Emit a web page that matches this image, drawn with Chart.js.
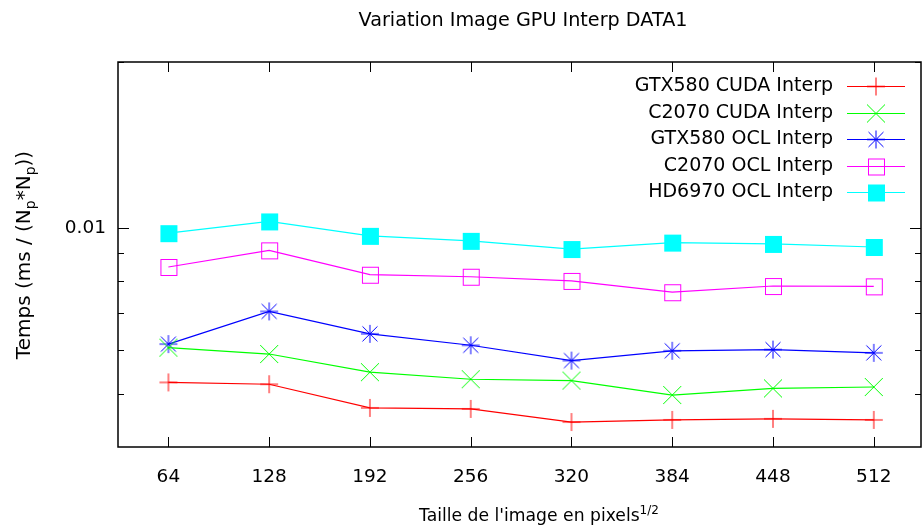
<!DOCTYPE html>
<html>
<head>
<meta charset="utf-8">
<title>Variation Image GPU Interp DATA1</title>
<script src="https://cdn.jsdelivr.net/npm/chart.js@4.4.0/dist/chart.umd.min.js"></script>
<style>
  html, body { margin: 0; padding: 0; background: #fff; overflow: hidden; }
  #wrap { width: 922px; height: 529px; }
</style>
</head>
<body>
<div id="wrap"><canvas id="chart"></canvas></div>
<script>
// image side (sqrt of the pixel count)
const sizes = [64, 128, 192, 256, 320, 384, 448, 512];

// time per pixel, ms / (Np*Np)
const gtx580Cuda = [0.00524, 0.00520, 0.00471, 0.00469, 0.00444, 0.00448, 0.00450, 0.00448];
const c2070Cuda  = [0.00606, 0.00590, 0.00547, 0.00531, 0.00528, 0.00497, 0.00511, 0.00514];
const gtx580Ocl  = [0.00615, 0.00705, 0.00642, 0.00612, 0.00574, 0.00598, 0.00601, 0.00593];
const c2070Ocl   = [0.00849, 0.00910, 0.00822, 0.00815, 0.00801, 0.00764, 0.00784, 0.00783];
const hd6970Ocl  = [0.00978, 0.01027, 0.00967, 0.00947, 0.00915, 0.00940, 0.00935, 0.00923];

const seriesNames = ['GTX580 CUDA Interp', 'C2070 CUDA Interp', 'GTX580 OCL Interp', 'C2070 OCL Interp', 'HD6970 OCL Interp'];

const xTicks = [64, 128, 192, 256, 320, 384, 448, 512];
const yMajorTicks = [0.01];
const yMinorTicks = [0.005, 0.006, 0.007, 0.008, 0.009, 0.02];

const FONT = '"DejaVu Sans", Verdana, sans-serif';

// gnuplot-like point symbols drawn on small canvases
function makeMarker(kind, color) {
  const c = document.createElement('canvas');
  c.width = c.height = 20;
  const g = c.getContext('2d');
  const m = 10;
  g.strokeStyle = color;
  g.fillStyle = color;
  g.lineWidth = 1;
  g.beginPath();
  if (kind === 'plus' || kind === 'star') {
    g.moveTo(m, m - 9); g.lineTo(m, m + 9);
    g.moveTo(m - 9, m); g.lineTo(m + 9, m);
  }
  if (kind === 'cross' || kind === 'star') {
    const d = kind === 'star' ? 7.5 : 9;
    g.moveTo(m - d, m - d); g.lineTo(m + d, m + d);
    g.moveTo(m - d, m + d); g.lineTo(m + d, m - d);
  }
  g.stroke();
  if (kind === 'box') g.strokeRect(m - 7.5, m - 7.5, 16, 16);
  if (kind === 'fbox') g.fillRect(m - 8, m - 8, 17, 17);
  return c;
}

const seriesValues = [gtx580Cuda, c2070Cuda, gtx580Ocl, c2070Ocl, hd6970Ocl];
const seriesColors = ['#ff0000', '#00ff00', '#0000ff', '#ff00ff', '#00ffff'];
const seriesMarks = ['plus', 'cross', 'star', 'box', 'fbox'];

const datasets = seriesValues.map((vals, i) => {
  const img = makeMarker(seriesMarks[i], seriesColors[i]);
  return {
    label: seriesNames[i],
    data: sizes.map((s, j) => ({ x: s, y: vals[j] })),
    borderColor: seriesColors[i],
    backgroundColor: seriesColors[i],
    borderWidth: 1.2,
    tension: 0,
    pointStyle: img,
    pointRadius: 10,
    pointHoverRadius: 10,
    markerImg: img
  };
});

// draws text made of runs, some of them sub/superscript, centred on (0,0)
function richText(ctx, runs, size) {
  const small = Math.round(size * 0.72);
  let total = 0;
  runs.forEach(r => {
    ctx.font = (r.s ? small : size) + 'px ' + FONT;
    r.w = ctx.measureText(r.t).width;
    total += r.w;
  });
  let x = -total / 2;
  ctx.textAlign = 'left';
  ctx.textBaseline = 'middle';
  runs.forEach(r => {
    ctx.font = (r.s ? small : size) + 'px ' + FONT;
    const dy = r.s === 'sub' ? size * 0.32 : r.s === 'sup' ? -size * 0.38 : 0;
    ctx.fillText(r.t, x, dy);
    x += r.w;
  });
}

const framePlugin = {
  id: 'frame',
  afterDraw(chart) {
    const ctx = chart.ctx;
    const a = chart.chartArea;
    const xs = chart.scales.x, ys = chart.scales.y;
    ctx.save();
    ctx.strokeStyle = '#000';
    ctx.lineWidth = 1;
    ctx.beginPath();
    // inward ticks on all four sides
    xTicks.forEach(v => {
      const px = Math.round(xs.getPixelForValue(v)) + 0.5;
      ctx.moveTo(px, a.bottom); ctx.lineTo(px, a.bottom - 10);
      ctx.moveTo(px, a.top); ctx.lineTo(px, a.top + 10);
    });
    yMajorTicks.forEach(v => {
      const py = Math.round(ys.getPixelForValue(v)) + 0.5;
      ctx.moveTo(a.left, py); ctx.lineTo(a.left + 11, py);
      ctx.moveTo(a.right, py); ctx.lineTo(a.right - 11, py);
    });
    yMinorTicks.forEach(v => {
      const py = Math.round(ys.getPixelForValue(v)) + 0.5;
      ctx.moveTo(a.left, py); ctx.lineTo(a.left + 6, py);
      ctx.moveTo(a.right, py); ctx.lineTo(a.right - 6, py);
    });
    ctx.stroke();
    ctx.lineWidth = 1.5;
    ctx.strokeRect(a.left, a.top, a.right - a.left, a.bottom - a.top);

    ctx.fillStyle = '#000';
    // title
    ctx.font = '19.2px ' + FONT;
    ctx.textAlign = 'center';
    ctx.textBaseline = 'middle';
    ctx.fillText('Variation Image GPU Interp DATA1', 523, 21);

    // x axis label
    ctx.save();
    ctx.translate(539, 517);
    richText(ctx, [{ t: 'Taille de l\'image en pixels' }, { t: '1/2', s: 'sup' }], 17.2);
    ctx.restore();

    // y axis label
    ctx.save();
    ctx.translate(25, 255);
    ctx.rotate(-Math.PI / 2);
    richText(ctx, [{ t: 'Temps (ms / (N' }, { t: 'p', s: 'sub' }, { t: '*N' }, { t: 'p', s: 'sub' }, { t: '))' }], 20);
    ctx.restore();

    // key: label right-aligned, then line sample with symbol
    chart.data.datasets.forEach((ds, i) => {
      const y = 86 + i * 26.6;
      ctx.font = '19px ' + FONT;
      ctx.textAlign = 'right';
      ctx.textBaseline = 'middle';
      ctx.fillStyle = '#000';
      ctx.fillText(ds.label, 833, y);
      ctx.strokeStyle = ds.borderColor;
      ctx.lineWidth = 1.2;
      ctx.beginPath();
      ctx.moveTo(847, Math.round(y) + 0.5);
      ctx.lineTo(905, Math.round(y) + 0.5);
      ctx.stroke();
      ctx.drawImage(ds.markerImg, 876 - 10, Math.round(y) - 10 + 0.5);
    });
    ctx.restore();
  }
};

new Chart(document.getElementById('chart'), {
  type: 'line',
  data: { datasets },
  options: {
    responsive: true,
    maintainAspectRatio: false,
    animation: false,
    layout: { autoPadding: false, padding: { top: 62, right: 1, left: 0, bottom: 0 } },
    plugins: {
      legend: { display: false },
      title: { display: false },
      tooltip: { enabled: false }
    },
    scales: {
      x: {
        type: 'linear',
        min: 32,
        max: 542,
        grid: { display: false, drawTicks: false },
        border: { display: false },
        afterBuildTicks: scale => { scale.ticks = xTicks.map(v => ({ value: v })); },
        afterFit: scale => {
          scale.height = 82;
          scale.paddingLeft = 0;
          scale.paddingRight = 0;
        },
        ticks: {
          color: '#000',
          padding: 19,
          maxRotation: 0,
          autoSkip: false,
          font: { family: FONT, size: 18.5 },
          callback: v => String(v)
        }
      },
      y: {
        type: 'logarithmic',
        min: 0.004,
        max: 0.02,
        grid: { display: false, drawTicks: false },
        border: { display: false },
        afterBuildTicks: scale => { scale.ticks = yMajorTicks.map(v => ({ value: v })); },
        afterFit: scale => {
          scale.width = 118;
          scale.paddingTop = 0;
          scale.paddingBottom = 0;
        },
        ticks: {
          color: '#000',
          padding: 12,
          autoSkip: false,
          font: { family: FONT, size: 18.5 },
          callback: v => String(v)
        }
      }
    }
  },
  plugins: [framePlugin]
});
</script>
</body>
</html>
